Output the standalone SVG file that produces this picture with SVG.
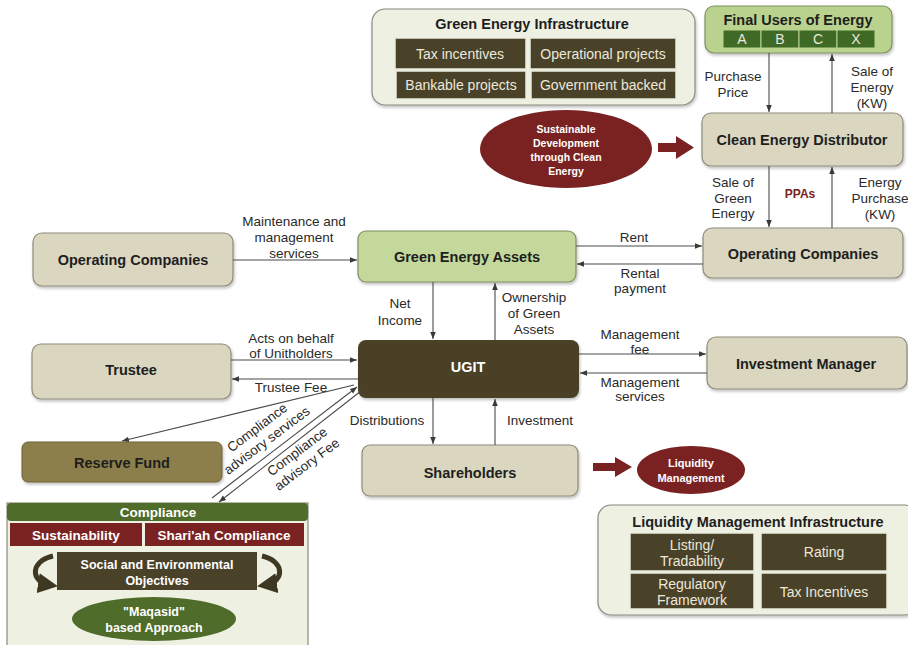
<svg xmlns="http://www.w3.org/2000/svg" width="908" height="645" viewBox="0 0 908 645">
<defs>
<marker id="ah" viewBox="0 0 10 10" refX="10" refY="5" markerWidth="7" markerHeight="7" orient="auto-start-reverse" markerUnits="userSpaceOnUse">
<path d="M0,1 L10,5 L0,9 Z" fill="#3a3a3a"/>
</marker>
<marker id="ahc" viewBox="0 0 10 10" refX="6" refY="5" markerWidth="4" markerHeight="4" orient="auto">
<path d="M0,0 L10,5 L0,10 Z" fill="#3e3822"/>
</marker>
<filter id="sh" x="-5%" y="-5%" width="110%" height="120%">
<feDropShadow dx="1" dy="2" stdDeviation="1.5" flood-color="#000" flood-opacity="0.25"/>
</filter>
</defs>
<style>
text{font-family:"Liberation Sans",Arial,sans-serif;text-anchor:middle;dominant-baseline:central}
.t{font-size:14.5px;font-weight:bold;fill:#1e1e1e}
.l{font-size:13.5px;fill:#2a2a2a}
.beige{fill:#dad6c0;stroke:#8e8b78;stroke-width:1.2}
.green{fill:#c3d89a;stroke:#7f8f62;stroke-width:1.2}
.panel{fill:#eef0e2;stroke:#8a8a80;stroke-width:1.2}
.dk{fill:#4a4129;stroke:#e9ebdc;stroke-width:1.5}
.dkt{font-size:14px;fill:#ece8da}
.wb{font-weight:bold;fill:#ffffff}
.c{stroke:#4a4a4a;stroke-width:1.1;fill:none;marker-end:url(#ah)}
</style>
<rect width="908" height="645" fill="#ffffff"/>

<g id="green-energy-infrastructure">
<rect class="panel" x="372" y="9" width="323" height="96" rx="13" filter="url(#sh)"/>
<text class="t" x="532" y="24">Green Energy Infrastructure</text>
<rect class="dk" x="395" y="38" width="131" height="31"/>
<text class="dkt" x="460" y="54">Tax incentives</text>
<rect class="dk" x="530" y="38" width="146" height="31"/>
<text class="dkt" x="603" y="54">Operational projects</text>
<rect class="dk" x="396" y="71" width="130" height="28"/>
<text class="dkt" x="461" y="85">Bankable projects</text>
<rect class="dk" x="531" y="71" width="145" height="28"/>
<text class="dkt" x="603" y="85">Government backed</text>
</g>

<g id="final-users">
<rect x="705" y="6" width="187" height="47" rx="9" fill="#b9d38e" stroke="#7f8f62" stroke-width="1.2" filter="url(#sh)"/>
<text class="t" x="798" y="20">Final Users of Energy</text>
<rect x="723" y="30" width="38" height="18" fill="#3f6a26" stroke="#b9d38e"/>
<rect x="761" y="30" width="38" height="18" fill="#3f6a26" stroke="#b9d38e"/>
<rect x="799" y="30" width="38" height="18" fill="#3f6a26" stroke="#b9d38e"/>
<rect x="837" y="30" width="38" height="18" fill="#3f6a26" stroke="#b9d38e"/>
<text class="dkt" x="742" y="39">A</text>
<text class="dkt" x="780" y="39">B</text>
<text class="dkt" x="818" y="39">C</text>
<text class="dkt" x="856" y="39">X</text>
</g>

<g id="clean-energy-distributor">
<rect class="beige" x="702" y="113" width="201" height="53" rx="9" filter="url(#sh)"/>
<text class="t" x="802" y="140">Clean Energy Distributor</text>
</g>

<g id="sustainable-development">
<ellipse cx="566" cy="149" rx="86" ry="39" fill="#7a2222"/>
<text class="wb" font-size="10.5" x="566" y="129">Sustainable</text>
<text class="wb" font-size="10.5" x="566" y="143">Development</text>
<text class="wb" font-size="10.5" x="566" y="157">through Clean</text>
<text class="wb" font-size="10.5" x="566" y="171">Energy</text>
<polygon points="658,143 676,143 676,136 694,147.5 676,159 676,152 658,152" fill="#7a2222"/>
</g>

<g id="operating-companies-left">
<rect class="beige" x="33" y="233" width="200" height="53" rx="9" filter="url(#sh)"/>
<text class="t" x="133" y="260">Operating Companies</text>
</g>

<g id="green-energy-assets">
<rect class="green" x="358" y="231" width="218" height="51" rx="8" filter="url(#sh)"/>
<text class="t" x="467" y="257">Green Energy Assets</text>
</g>

<g id="operating-companies-right">
<rect class="beige" x="703" y="228" width="200" height="50" rx="9" filter="url(#sh)"/>
<text class="t" x="803" y="254">Operating Companies</text>
</g>

<g id="trustee">
<rect class="beige" x="32" y="344" width="199" height="55" rx="9" filter="url(#sh)"/>
<text class="t" x="131" y="370">Trustee</text>
</g>

<g id="ugit">
<rect x="358" y="340" width="221" height="58" rx="8" fill="#4a3f27" filter="url(#sh)"/>
<text class="wb" font-size="14.5" x="468" y="367">UGIT</text>
</g>

<g id="investment-manager">
<rect class="beige" x="707" y="337" width="200" height="52" rx="9" filter="url(#sh)"/>
<text class="t" x="806" y="364">Investment Manager</text>
</g>

<g id="reserve-fund">
<rect x="22" y="442" width="200" height="40" rx="6" fill="#8c7f4b" stroke="#6e6438" stroke-width="1" filter="url(#sh)"/>
<text class="t" x="122" y="463">Reserve Fund</text>
</g>

<g id="shareholders">
<rect class="beige" x="362" y="445" width="216" height="51" rx="8" filter="url(#sh)"/>
<text class="t" x="470" y="473">Shareholders</text>
</g>

<g id="liquidity-management">
<polygon points="593,463 615,463 615,457 632,467 615,477 615,471 593,471" fill="#7a2222"/>
<ellipse cx="691" cy="470" rx="54" ry="24" fill="#7a2222"/>
<text class="wb" font-size="11" x="691" y="463">Liquidity</text>
<text class="wb" font-size="11" x="691" y="478">Management</text>
</g>

<g id="compliance">
<rect class="panel" x="7" y="503" width="301" height="150"/>
<rect x="7" y="503" width="301" height="18" rx="4" fill="#4f6c2b"/>
<text class="wb" font-size="13.5" x="158" y="512">Compliance</text>
<rect x="10" y="523" width="132" height="23" fill="#7a2222"/>
<text class="wb" font-size="13.5" x="76" y="535">Sustainability</text>
<rect x="145" y="523" width="159" height="23" fill="#7a2222"/>
<text class="wb" font-size="13.5" x="224" y="535">Shari'ah Compliance</text>
<rect x="57" y="552" width="200" height="38" fill="#4a4129"/>
<text class="wb" font-size="12.5" x="157" y="565">Social and Environmental</text>
<text class="wb" font-size="12.5" x="157" y="581">Objectives</text>
<path d="M53,556 C30,561 30,582 50,585" stroke="#3e3822" stroke-width="5" fill="none" marker-end="url(#ahc)"/>
<path d="M262,556 C285,561 285,582 265,585" stroke="#3e3822" stroke-width="5" fill="none" marker-end="url(#ahc)"/>
<ellipse cx="154" cy="619" rx="82" ry="22" fill="#4f6c2b"/>
<text class="wb" font-size="12.5" x="154" y="612">"Maqasid"</text>
<text class="wb" font-size="12.5" x="154" y="628">based Approach</text>
</g>

<g id="liquidity-management-infrastructure">
<rect class="panel" x="598" y="505" width="320" height="110" rx="13" filter="url(#sh)"/>
<text class="t" x="758" y="522">Liquidity Management Infrastructure</text>
<rect class="dk" x="630" y="533" width="124" height="38"/>
<text class="dkt" x="692" y="545">Listing/</text>
<text class="dkt" x="692" y="561">Tradability</text>
<rect class="dk" x="761" y="533" width="126" height="38"/>
<text class="dkt" x="824" y="552">Rating</text>
<rect class="dk" x="630" y="573" width="124" height="36"/>
<text class="dkt" x="692" y="584">Regulatory</text>
<text class="dkt" x="692" y="600">Framework</text>
<rect class="dk" x="761" y="573" width="126" height="36"/>
<text class="dkt" x="824" y="592">Tax Incentives</text>
</g>

<g id="connectors">
<line class="c" x1="769" y1="53" x2="769" y2="112"/>
<line class="c" x1="832" y1="113" x2="832" y2="54"/>
<line class="c" x1="769" y1="166" x2="769" y2="227"/>
<line class="c" x1="832" y1="228" x2="832" y2="167"/>
<line class="c" x1="233" y1="260" x2="357" y2="260"/>
<line class="c" x1="576" y1="246" x2="702" y2="246"/>
<line class="c" x1="703" y1="264" x2="577" y2="264"/>
<line class="c" x1="433" y1="282" x2="433" y2="339"/>
<line class="c" x1="495" y1="340" x2="495" y2="283"/>
<line class="c" x1="231" y1="360" x2="357" y2="360"/>
<line class="c" x1="358" y1="379" x2="232" y2="379"/>
<line class="c" x1="579" y1="354" x2="706" y2="354"/>
<line class="c" x1="707" y1="373" x2="580" y2="373"/>
<line class="c" x1="433" y1="398" x2="433" y2="444"/>
<line class="c" x1="495" y1="445" x2="495" y2="399"/>
<line class="c" x1="354" y1="385" x2="122" y2="441"/>
<line class="c" x1="212" y1="498" x2="357" y2="387"/>
<line class="c" x1="361" y1="391" x2="219" y2="502"/>
</g>

<g id="labels">
<text class="l" x="733" y="76">Purchase</text>
<text class="l" x="733" y="92">Price</text>
<text class="l" x="872" y="71">Sale of</text>
<text class="l" x="872" y="87">Energy</text>
<text class="l" x="872" y="103">(KW)</text>
<text class="l" x="733" y="182">Sale of</text>
<text class="l" x="733" y="198">Green</text>
<text class="l" x="733" y="213">Energy</text>
<text x="800" y="194" font-size="12" font-weight="bold" fill="#7a2222">PPAs</text>
<text class="l" x="880" y="182">Energy</text>
<text class="l" x="880" y="198">Purchase</text>
<text class="l" x="880" y="214">(KW)</text>
<text class="l" x="294" y="221">Maintenance and</text>
<text class="l" x="294" y="237">management</text>
<text class="l" x="294" y="253">services</text>
<text class="l" x="634" y="237">Rent</text>
<text class="l" x="640" y="273">Rental</text>
<text class="l" x="640" y="288">payment</text>
<text class="l" x="400" y="303">Net</text>
<text class="l" x="400" y="320">Income</text>
<text class="l" x="534" y="297">Ownership</text>
<text class="l" x="534" y="313">of Green</text>
<text class="l" x="534" y="329">Assets</text>
<text class="l" x="291" y="338">Acts on behalf</text>
<text class="l" x="291" y="353">of Unitholders</text>
<text class="l" x="291" y="387">Trustee Fee</text>
<text class="l" x="640" y="334">Management</text>
<text class="l" x="640" y="349">fee</text>
<text class="l" x="640" y="382">Management</text>
<text class="l" x="640" y="396">services</text>
<text class="l" x="387" y="420">Distributions</text>
<text class="l" x="540" y="420">Investment</text>
<g transform="translate(262,434) rotate(-37)">
<text class="l" x="0" y="-8">Compliance</text>
<text class="l" x="0" y="8">advisory services</text>
</g>
<g transform="translate(302,458) rotate(-37)">
<text class="l" x="0" y="-8">Compliance</text>
<text class="l" x="0" y="8">advisory Fee</text>
</g>
</g>
</svg>
